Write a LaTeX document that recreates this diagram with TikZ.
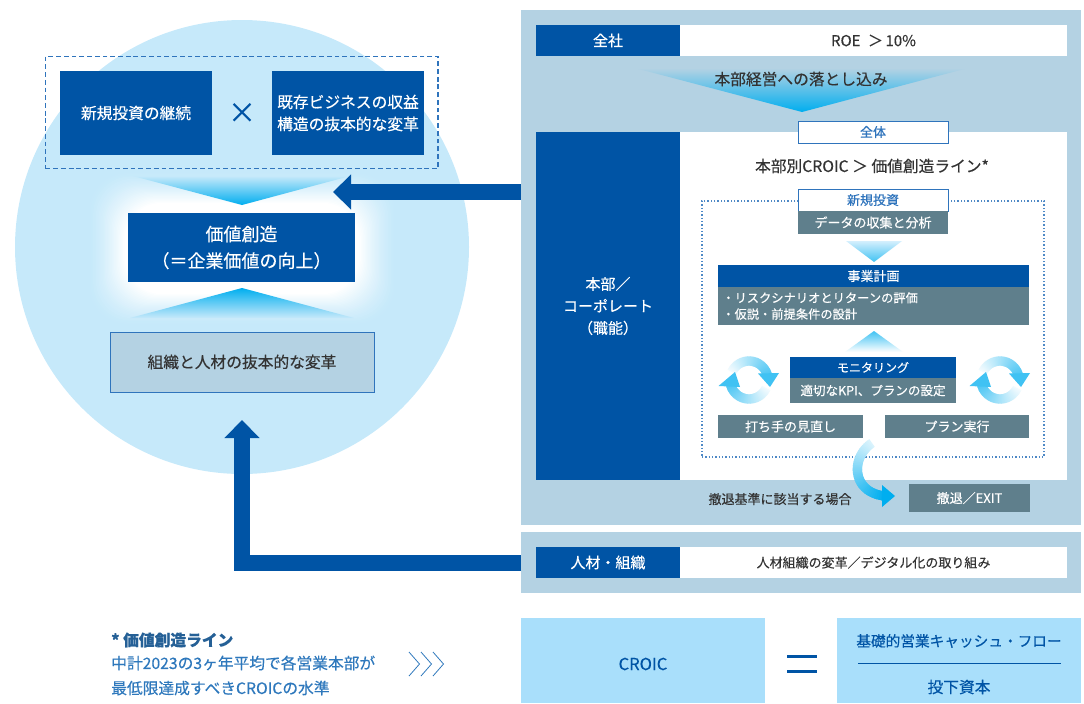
\documentclass[tikz,border=0pt]{standalone}
\usepackage{fontspec}
\setmainfont{Noto Sans CJK JP}[RawFeature={embolden=0.35}]
\usetikzlibrary{arrows.meta}
\definecolor{mblue}{HTML}{0054A5}
\definecolor{lineblue}{HTML}{2F74BC}
\definecolor{panelc}{HTML}{B4D2E3}
\definecolor{circlec}{HTML}{C6E9FA}
\definecolor{greyc}{HTML}{5F7F8C}
\definecolor{skyc}{HTML}{A9DFFB}
\definecolor{cyanc}{HTML}{00AEEF}
\definecolor{txt}{HTML}{333333}
\definecolor{notec}{HTML}{2E78BC}
\tikzset{
  t12/.style={font=\fontsize{9}{13}\selectfont},
  t12b/.style={font=\fontsize{9.2}{12.2}\selectfont},
  t13/.style={font=\fontsize{9.75}{12.2}\selectfont},
  t13n/.style={font=\fontsize{9.4}{12.2}\selectfont},
  t14/.style={font=\fontsize{11.8}{18.75}\selectfont},
  t15/.style={font=\fontsize{11.25}{16.5}\selectfont},
  t16/.style={font=\fontsize{11.8}{16.5}\selectfont},
  t18/.style={font=\fontsize{13.5}{20}\selectfont},
  solidblue/.style={fill=mblue,text=white,align=center},
  greybox/.style={fill=greyc,text=white,align=center},
  whitebox/.style={fill=white,text=txt,align=center},
  tagbox/.style={fill=white,draw=lineblue,line width=0.75pt,text=lineblue,align=center},
  panel/.style={fill=panelc},
  sky/.style={fill=skyc,text=mblue,align=center},
  label/.style={text=txt,inner sep=0pt,align=center},
  bigarrow/.style={draw=mblue,line width=12pt,-{Triangle[length=13.5pt,width=25.5pt]}},
}
\newcommand{\bx}[7][]{%
  \pgfmathsetmacro{\bw}{(#5-#3)*0.75}%
  \pgfmathsetmacro{\bh}{(#6-#4)*0.75}%
  \node[#1,minimum width=\bw pt,minimum height=\bh pt,inner sep=0pt,outer sep=0pt] (#2) at ({(#3+#5)/2},{(#4+#6)/2}) {#7};}
\begin{document}
\begin{tikzpicture}[x=0.75pt,y=-0.75pt]
\path[use as bounding box] (0,0) rectangle (1084,703);
% left circle
\fill[circlec] (242,247) circle[radius=170.25pt];
\foreach \i in {0,...,28}{%
  \pgfmathsetmacro{\m}{100*(\i/28)^1.4}%
  \fill[white!\m!circlec,rounded corners=28pt] ({88+\i*1.3},{172+\i*1.1}) rectangle ({396-\i*1.3},{325-\i*1.1});
}
\bx[draw=lineblue,dash pattern=on 3.6pt off 2.2pt,line width=0.8pt]{dashbox}{45.5}{56.5}{438}{168.5}{}
\bx[solidblue,t16]{invest}{60}{71}{212}{155}{新規投資の継続}
\bx[solidblue,t16]{biz}{272}{71}{424}{155}{既存ビジネスの収益\\構造の抜本的な変革}
\node[text=mblue,inner sep=0pt,font=\fontsize{21}{21}\selectfont] (times) at (242,113) {×};
\shade[top color=circlec,bottom color=cyanc] (133,176) -- (350,176) -- (242,205) -- cycle;
\bx[solidblue,t18]{value}{128}{213}{355}{282}{価値創造\\（＝企業価値の向上）}
\shade[top color=cyanc,bottom color=circlec] (242,288) -- (354,318) -- (130,318) -- cycle;
\bx[fill=panelc,draw=lineblue,line width=0.75pt,text=txt,t16]{org}{110}{332}{374}{392}{組織と人材の抜本的な変革}

% right panel
\bx[panel]{rp}{521}{10}{1081}{525}{}
\bx[solidblue,t15]{zensha}{536}{25}{680}{56}{全社}
\bx[whitebox,t15]{roe}{680}{25}{1067}{56}{ROE\enspace ＞\,10\%}
\shade[top color=panelc,bottom color=cyanc] (635,68) -- (968,68) -- (802,112) -- cycle;
\node[label,t16] (otoshi) at (801,79) {本部経営への落とし込み};
\bx[solidblue,t15]{honbu}{536}{132}{680}{480}{本部／\\コーポレート\\（職能）}
\bx[whitebox]{plan}{680}{132}{1067}{480}{}
\bx[tagbox,t13]{zentai}{798}{121}{948}{143}{全体}
\node[label,t16] (croicline) at (872,166) {本部別CROIC ＞ 価値創造ライン*};
\bx[draw=lineblue!85!white,dash pattern=on 1.1pt off 1.4pt,line width=0.9pt]{dotbox}{702}{201}{1044}{457}{}
\bx[tagbox,t13]{shinki}{798}{189}{948}{211}{新規投資}
\bx[greybox,t13]{data}{798}{211}{948}{234}{データの収集と分析}
\shade[top color=skyc!50!white,bottom color=cyanc!75!white] (846,241) -- (902,241) -- (874,262) -- cycle;
\bx[solidblue,t13]{jigyo}{718}{265}{1029}{287}{事業計画}
\bx[fill=greyc]{jigyob}{718}{287}{1029}{325}{}
\node[text=white,t12b,inner sep=0pt,align=left,anchor=west] (jigyot) at (722,306) {・リスクシナリオとリターンの評価\\・仮説・前提条件の設計};
\shade[top color=cyanc!75!white,bottom color=white] (874,331) -- (903,352) -- (845,352) -- cycle;
\bx[solidblue,t12]{moni}{790}{357}{956}{378}{モニタリング}
\bx[greybox,t13n]{kpi}{790}{378}{956}{403}{適切なKPI、プランの設定}
\bx[greybox,t13]{uchite}{718}{415}{863}{438}{打ち手の見直し}
\bx[greybox,t13]{exec}{885}{415}{1029}{438}{プラン実行}
% cycle arrows
\foreach \cx in {749,1000}{%
  \foreach \a in {0,4,...,140}{%
    \pgfmathsetmacro{\mx}{5+\a*0.47}%
    \draw[line width=7pt,color=cyanc!\mx!white] ({\cx+19*cos(205+\a)},{380+19*sin(205+\a)}) -- ({\cx+19*cos(211+\a)},{380+19*sin(211+\a)});
    \draw[line width=7pt,color=cyanc!\mx!white] ({\cx+19*cos(25+\a)},{380+19*sin(25+\a)}) -- ({\cx+19*cos(31+\a)},{380+19*sin(31+\a)});
  }
  \fill[cyanc!75!white] ({\cx+9},373.5) -- ({\cx+30},373) -- ({\cx+21},387) -- cycle;
  \fill[cyanc!75!white] ({\cx-30.5},386) -- ({\cx-9},387) -- ({\cx-14},372) -- cycle;
}
% exit arrow
\foreach \t in {0,0.025,...,0.98}{%
  \pgfmathsetmacro{\mx}{15+\t*85}%
  \pgfmathsetmacro{\ta}{\t+0.04}%
  \draw[line width=7pt,color=cyanc!\mx!white]
   ({(1-\t)^3*872+3*(1-\t)^2*\t*850+3*(1-\t)*\t^2*852+\t^3*884},{(1-\t)^3*443+3*(1-\t)^2*\t*458+3*(1-\t)*\t^2*492+\t^3*496})
   -- ({(1-\ta)^3*872+3*(1-\ta)^2*\ta*850+3*(1-\ta)*\ta^2*852+\ta^3*884},{(1-\ta)^3*443+3*(1-\ta)^2*\ta*458+3*(1-\ta)*\ta^2*492+\ta^3*496});
}
\fill[cyanc] (882,485) -- (895,496) -- (882,507) -- cycle;
\node[label,t13,text=txt] (kijun) at (780,499) {撤退基準に該当する場合};
\bx[greybox,t13]{exit}{909}{484}{1030}{512}{撤退／EXIT}

% HR panel
\bx[panel]{hrp}{521}{532}{1081}{593}{}
\bx[solidblue,t15]{jinzai}{536}{547}{680}{578}{人材・組織}
\bx[whitebox,t13]{jinzait}{680}{547}{1067}{578}{人材組織の変革／デジタル化の取り組み}

% big arrows
\coordinate (tipA) at (333,192);
\coordinate (tipB) at (242,420);
\coordinate (elbow) at (242,562.5);
\draw[bigarrow] (rp.west |- tipA) -- (tipA);
\draw[bigarrow] (hrp.west |- elbow) -| (tipB);

% bottom
\node[text=notec!80!black,inner sep=0pt,anchor=west,font=\fontsize{11.8}{14}\bfseries\selectfont] (note1) at (111,640) {* 価値創造ライン};
\node[text=notec,inner sep=0pt,anchor=west,align=left,t14] (note2) at (111,675.5) {中計2023の3ヶ年平均で各営業本部が\\最低限達成すべきCROICの水準};
\foreach \x in {409,421,433}{%
  \draw[notec,line width=0.6pt] (\x,652) -- ({\x+10.5},664) -- (\x,676);
}
\bx[sky]{croic}{521}{618}{765}{703}{}
\node[text=mblue,inner sep=0pt,font=\fontsize{12.4}{16}\selectfont] (croict) at (643,664) {CROIC};
\bx[sky]{frac}{837}{618}{1081}{703}{}
\node[text=mblue,inner sep=0pt,font=\fontsize{11}{14}\selectfont] (cf) at (959,641) {基礎的営業キャッシュ・フロー};
\node[text=mblue,inner sep=0pt,t16] (ic) at (959,687) {投下資本};
\coordinate (barL) at (858,663.5);
\coordinate (barR) at (1061,663.5);
\draw[mblue,line width=0.8pt] (barL) -- (barR);
\coordinate (eqL) at (787,656.5);
\coordinate (eqR) at (817,671.5);
\draw[mblue,line width=2.6pt] (eqL) -- (eqL -| eqR);
\draw[mblue,line width=2.6pt] (eqL |- eqR) -- (eqR);
\end{tikzpicture}
\end{document}
